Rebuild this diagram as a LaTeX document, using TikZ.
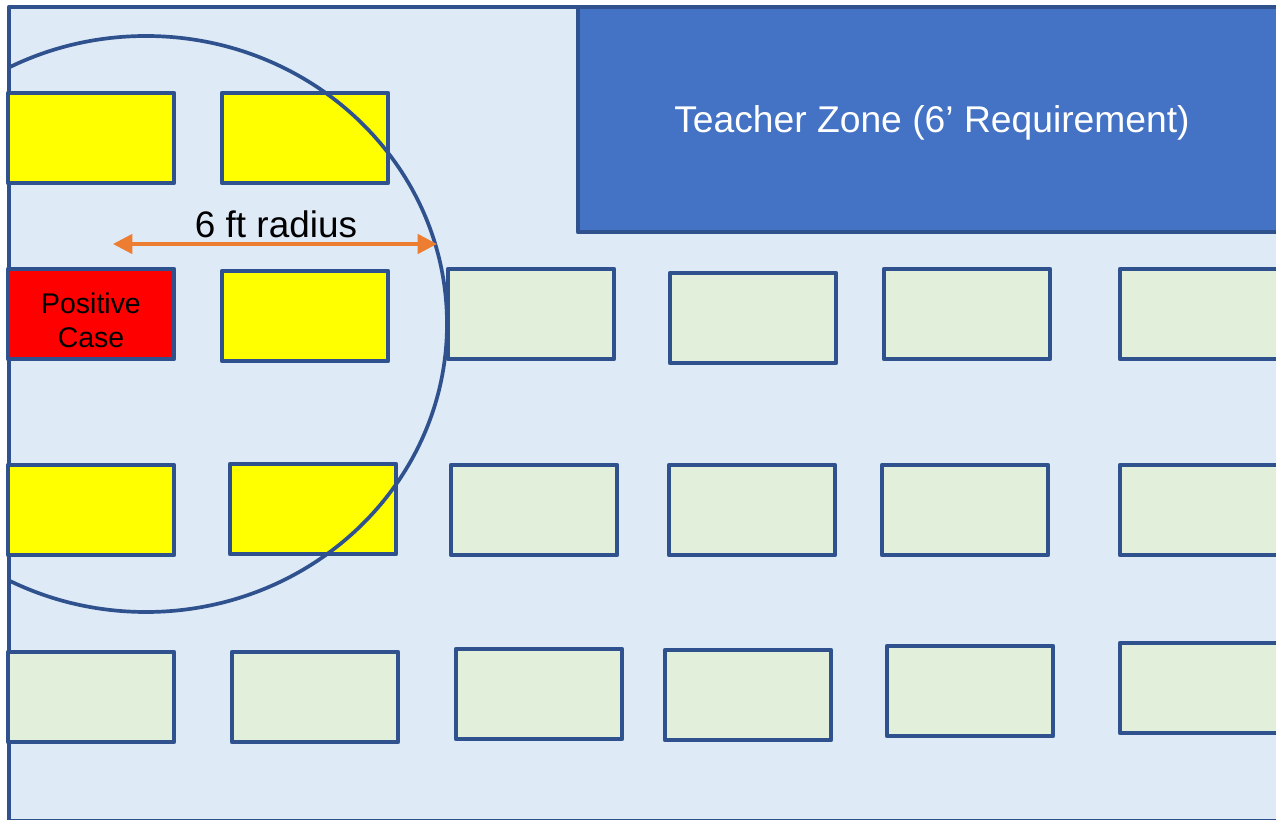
\documentclass[tikz,border=0pt]{standalone}
\usepackage{fontspec}
\setmainfont{Liberation Sans}
\usetikzlibrary{arrows.meta}

\definecolor{roomblue}{HTML}{DEEAF6}
\definecolor{deskline}{HTML}{2F528F}
\definecolor{deskgreen}{HTML}{E2EFDA}
\definecolor{deskyellow}{RGB}{255,255,0}
\definecolor{deskred}{RGB}{255,0,0}
\definecolor{zoneblue}{HTML}{4472C4}
\definecolor{rulerorange}{HTML}{ED7D31}

\tikzset{
  desk/.style={draw=deskline, line width=2.6pt, line join=round, fill=deskgreen,
    minimum width=3.32cm, minimum height=1.8cm, inner sep=0pt},
  exposed/.style={desk, fill=deskyellow},
  positive/.style={desk, fill=deskred},
  wall/.style={draw=deskline, line width=2.6pt, line join=round},
}

\begin{document}
\begin{tikzpicture}[x=0.02cm, y=-0.02cm]
  \useasboundingbox (0,0) rectangle (1276,820);
  \clip (0,0) rectangle (1276,820);
  % room and teacher zone
  \draw[wall, fill=roomblue] (9,7) rectangle (1320,821);
  \draw[wall, fill=zoneblue] (578,7) rectangle (1320,232);
  \draw (932,123) node (zone) [text=white, font=\fontsize{21.2}{25}\selectfont] {Teacher Zone (6’ Requirement)};

  % row 1
  \draw (91,138)  node (d11) [exposed] {};
  \draw (305,138) node (d12) [exposed] {};
  % row 2
  \draw (91,314)  node (case) [positive] {};
  \draw (91,320)  node (case_text) [align=center, font=\fontsize{16.2}{19.3}\selectfont] {Positive\\Case};
  \draw (305,316) node (d22) [exposed] {};
  \draw (531,314) node (d23) [desk] {};
  \draw (753,318) node (d24) [desk] {};
  \draw (967,314) node (d25) [desk] {};
  \draw (1203,314) node (d26) [desk] {};
  % row 3
  \draw (91,510)  node (d31) [exposed] {};
  \draw (313,509) node (d32) [exposed] {};
  \draw (534,510) node (d33) [desk] {};
  \draw (752,510) node (d34) [desk] {};
  \draw (965,510) node (d35) [desk] {};
  \draw (1203,510) node (d36) [desk] {};
  % row 4
  \draw (91,697)  node (d41) [desk] {};
  \draw (315,697) node (d42) [desk] {};
  \draw (539,694) node (d43) [desk] {};
  \draw (748,695) node (d44) [desk] {};
  \draw (970,691) node (d45) [desk] {};
  \draw (1203,688) node (d46) [desk] {};

  % six foot zone, cut at the wall
  \begin{scope}
    \clip (9,7) rectangle (1276,820);
    \draw[deskline, line width=2.1pt] (146,324) ellipse [x radius=301, y radius=288];
  \end{scope}
  \coordinate (r_left) at (113,244);
  \coordinate (r_right) at (437,244);
  \draw[{Triangle[length=11pt, width=11pt]}-{Triangle[length=11pt, width=11pt]}, rulerorange, line width=2pt] (r_left) -- (r_right);
  \draw (276,224) node (radius) [font=\fontsize{21}{25}\selectfont] {6 ft radius};
\end{tikzpicture}
\end{document}
